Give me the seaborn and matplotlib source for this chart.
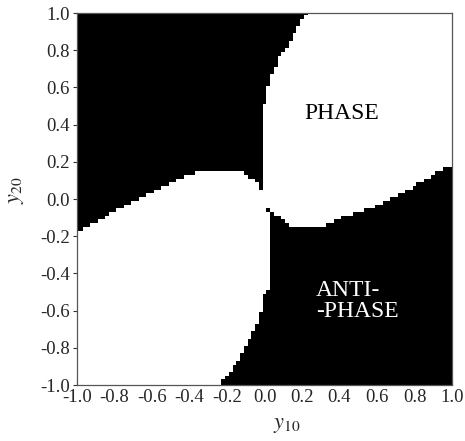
import numpy as np
import matplotlib
matplotlib.use('Agg')
import matplotlib.pyplot as plt
from matplotlib.path import Path
from matplotlib.colors import ListedColormap
import seaborn as sns

sns.set_theme(style='white')
plt.rcParams['font.family'] = ['Liberation Serif', 'DejaVu Serif']
plt.rcParams['mathtext.fontset'] = 'stix'
plt.rcParams['axes.unicode_minus'] = False

# boundary of the upper-left (anti-phase) region
tl_x = [-1.1, 0.26, 0.234, 0.198, 0.154, 0.109, 0.074, 0.047, 0.02, 0.003,
        -0.006, -0.012, -0.012, -0.05, -0.113, -0.13, -0.30, -0.38, -0.50,
        -0.655, -0.833, -1.0, -1.1]
tl_y = [1.1, 1.1, 1.0, 0.962, 0.88, 0.80, 0.756, 0.684, 0.613, 0.541,
        0.478, 0.435, 0.072, 0.093, 0.147, 0.152, 0.152, 0.138, 0.09,
        0.012, -0.086, -0.176, -0.2]

# boundary of the lower-right (anti-phase) region
br_x = [1.1, -0.26, -0.237, -0.21, -0.175, -0.14, -0.104, -0.068, -0.042,
        -0.015, -0.006, 0.02, 0.032, 0.032, 0.056, 0.1, 0.136, 0.314, 0.394,
        0.456, 0.57, 0.66, 0.75, 0.84, 0.927, 1.0, 1.1]
br_y = [-1.1, -1.1, -1.0, -0.964, -0.919, -0.866, -0.794, -0.74, -0.668,
        -0.597, -0.525, -0.49, -0.42, -0.062, -0.077, -0.113, -0.152, -0.152,
        -0.104, -0.086, -0.05, -0.005, 0.039, 0.093, 0.147, 0.177, 0.2]

# isolated anti-phase cells near the origin
dot_x = [-0.02, 0.02]
dot_y = [0.06, -0.06]

tick_labels = ['-1.0', '-0.8', '-0.6', '-0.4', '-0.2', '0.0',
               '0.2', '0.4', '0.6', '0.8', '1.0']

step = 0.02
y10 = np.round(np.arange(-1.0, 1.0 + step / 2, step), 4)
y20 = np.round(np.arange(-1.0, 1.0 + step / 2, step), 4)
X, Y = np.meshgrid(y10, y20)
pts = np.column_stack([X.ravel(), Y.ravel()])

mask = np.zeros(len(pts), dtype=bool)
for px, py in [(tl_x, tl_y), (br_x, br_y)]:
    mask |= Path(np.column_stack([px, py])).contains_points(pts)
mask = mask.reshape(X.shape)
for dx, dy in zip(dot_x, dot_y):
    mask[np.argmin(np.abs(y20 - dy)), np.argmin(np.abs(y10 - dx))] = True

fig = plt.figure(figsize=(4.65, 4.41), dpi=100)
ax = fig.add_axes([77 / 465, 1 - 385 / 441, 375 / 465, 372 / 441])
ax.pcolormesh(y10, y20, mask.astype(int), shading='nearest',
              cmap=ListedColormap(['white', 'black']), vmin=0, vmax=1)

ax.set_xlim(-1, 1)
ax.set_ylim(-1, 1)
ticks = [float(t) for t in tick_labels]
ax.set_xticks(ticks)
ax.set_yticks(ticks)
ax.set_xticklabels(tick_labels)
ax.set_yticklabels(tick_labels)
ax.tick_params(axis='x', direction='in', length=3, width=0.8, color='#333333',
               labelsize=13.5, pad=3)
ax.tick_params(axis='y', direction='out', length=3, width=0.8, color='#333333',
               labelsize=13.5, pad=2)
ax.tick_params(left=True, bottom=True)
for s in ax.spines.values():
    s.set_color('#555555')
    s.set_linewidth(0.9)

ax.set_xlabel('$y_{10}$', fontsize=16)
ax.set_ylabel('$y_{20}$', fontsize=16)
ax.xaxis.set_label_coords(0.56, -0.082)
ax.yaxis.set_label_coords(-0.135, 0.524)

ax.text(0.413, 0.46, 'PHASE', fontsize=17, color='black',
        ha='center', va='center')
ax.text(0.276, -0.548, 'ANTI-\n-PHASE', fontsize=17, color='white',
        ha='left', va='center', linespacing=1.05)

fig.savefig('out.png', dpi=100)
